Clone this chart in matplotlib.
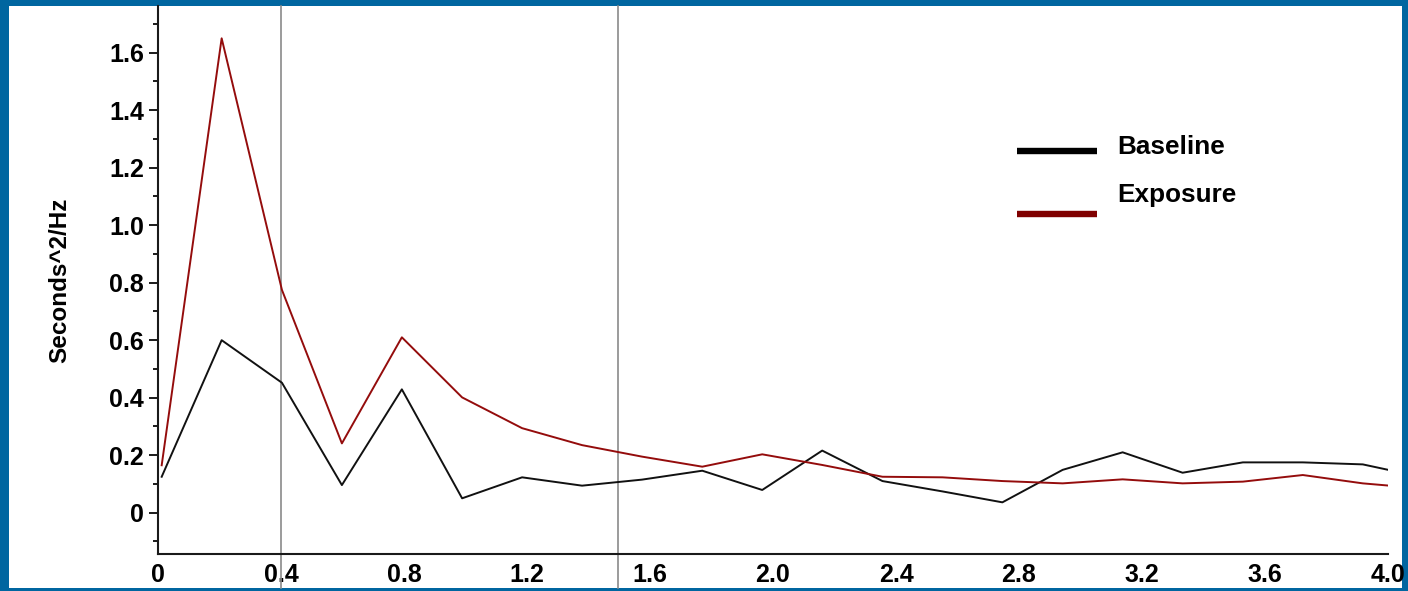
import matplotlib
matplotlib.use("Agg")
import matplotlib.pyplot as plt
from matplotlib.patches import Rectangle
from matplotlib.lines import Line2D
from matplotlib.ticker import FixedLocator

# Spectral power by frequency bin
freq = [0.012, 0.207, 0.403, 0.598, 0.793, 0.989, 1.184, 1.379, 1.574, 1.770,
        1.965, 2.160, 2.356, 2.551, 2.746, 2.942, 3.137, 3.332, 3.528, 3.723,
        3.918, 4.114]
baseline = [0.125, 0.600, 0.452, 0.096, 0.429, 0.050, 0.123, 0.094, 0.115, 0.146,
            0.079, 0.216, 0.110, 0.074, 0.036, 0.149, 0.210, 0.139, 0.175, 0.175,
            0.168, 0.123]
exposure = [0.165, 1.650, 0.775, 0.241, 0.610, 0.401, 0.294, 0.235, 0.195, 0.160,
            0.203, 0.166, 0.125, 0.123, 0.110, 0.102, 0.116, 0.102, 0.108, 0.131,
            0.102, 0.084]
band_edges = [0.4, 1.495]

x_ticks = [0.0, 0.4, 0.8, 1.2, 1.6, 2.0, 2.4, 2.8, 3.2, 3.6, 4.0]
x_labels = ["0", "0.4", "0.8", "1.2", "1.6", "2.0", "2.4", "2.8", "3.2", "3.6", "4.0"]
y_ticks = [0.0, 0.2, 0.4, 0.6, 0.8, 1.0, 1.2, 1.4, 1.6]
y_labels = ["0", "0.2", "0.4", "0.6", "0.8", "1.0", "1.2", "1.4", "1.6"]
series_names = ["Baseline", "Exposure"]
series_colors = ["#000000", "#800000"]
line_colors = ["#111111", "#940c0c"]

W, H = 1408, 591
FONT = "Liberation Sans"
BORDER = "#0066A0"

fig = plt.figure(figsize=(W / 100, H / 100), dpi=100, facecolor=BORDER)

# white panel inside the blue frame
fig.patches.append(Rectangle((9 / W, 1 - 588 / H), (1402 - 9) / W, (588 - 6) / H,
                             transform=fig.transFigure, facecolor="white",
                             edgecolor="none", zorder=-10))

ax = fig.add_axes([158 / W, 1 - 554 / H, 1230 / W, 548 / H])
ax.set_zorder(5)
ax.set_facecolor("none")
ax.set_xlim(0.0, 4.0)
ax.set_ylim(-0.1437, 1.7624)

ax.plot(freq, baseline, color=line_colors[0], lw=1.4, zorder=3)
ax.plot(freq, exposure, color=line_colors[1], lw=1.4, zorder=3)

for xe in band_edges:
    ax.axvline(xe, ymin=-0.062, ymax=1.0, color="#8a8a8a", lw=1.2,
               clip_on=False, zorder=2)

for side in ("top", "right"):
    ax.spines[side].set_visible(False)
for side in ("left", "bottom"):
    ax.spines[side].set_color("#1a1a1a")
    ax.spines[side].set_linewidth(1.5)

ax.xaxis.set_major_locator(FixedLocator(x_ticks))
ax.set_xticklabels(x_labels)
ax.yaxis.set_major_locator(FixedLocator(y_ticks))
ax.set_yticklabels(y_labels)
ax.yaxis.set_minor_locator(FixedLocator([-0.1, 0.1, 0.3, 0.5, 0.7, 0.9, 1.1, 1.3, 1.5, 1.7]))

ax.tick_params(axis="x", length=0, pad=6.5)
ax.tick_params(axis="y", which="major", length=6.5, width=1.4, color="#1a1a1a", pad=3.6)
ax.tick_params(axis="y", which="minor", length=3.6, width=1.4, color="#1a1a1a")
for lab in ax.get_xticklabels() + ax.get_yticklabels():
    lab.set_fontfamily(FONT)
    lab.set_fontweight("bold")
    lab.set_fontsize(18)

ax.set_ylabel("Seconds^2/Hz", fontfamily=FONT, fontweight="bold", fontsize=17.5)
ax.yaxis.set_label_coords((71 - 158) / 1230, 0.5)

# legend entries: line swatch and label
legend_rows = [(150.7, 154.0), (214.5, 201.7)]
for name, color, (ly, ty) in zip(series_names, series_colors, legend_rows):
    fig.lines.append(Line2D([1017 / W, 1097 / W], [1 - ly / H, 1 - ly / H],
                            transform=fig.transFigure, color=color, lw=4.6,
                            solid_capstyle="butt"))
    fig.text(1117 / W, 1 - ty / H, name, fontfamily=FONT, fontweight="bold",
             fontsize=18.8, ha="left", va="baseline")

fig.savefig("out.png", dpi=100, facecolor=BORDER)
